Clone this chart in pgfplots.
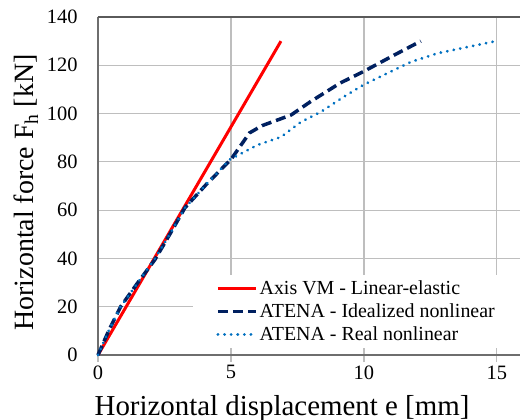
\documentclass[border=0pt]{standalone}
\usepackage{fontspec}
\setmainfont{Liberation Serif}
\usepackage{pgfplots}
\pgfplotsset{compat=1.18}
\definecolor{cred}{RGB}{255,0,0}
\definecolor{cnavy}{RGB}{0,32,96}
\definecolor{cblue}{RGB}{0,112,192}
\definecolor{cgrid}{RGB}{190,190,190}
\definecolor{caxis}{RGB}{110,110,110}
\begin{document}
\begin{tikzpicture}
\begin{axis}[
  scale only axis, width=422bp, height=338bp,
  xmin=0, xmax=15.87, ymin=0, ymax=140,
  xtick={0,5,10,15}, ytick={0,20,...,140},
  axis lines=left, axis line style={caxis, line width=1.2bp, -},
  grid=major, major grid style={cgrid, line width=1.2bp},
  x tick style={cgrid, line width=1.2bp}, major tick length=7bp,
  tick align=outside, y tick style={draw=none},
  /pgf/number format/assume math mode=true,
  ticklabel style={font=\fontsize{20.5}{24}\selectfont},
  xticklabel style={yshift=0bp},
  yticklabel style={xshift=-10bp},
  xlabel={Horizontal displacement e [mm]},
  ylabel={Horizontal force F\textsubscript{h} [kN]},
  xlabel style={font=\fontsize{29}{33}\selectfont, at={(axis description cs:0.436,0)}, anchor=base, yshift=-60bp},
  ylabel style={font=\fontsize{28}{32}\selectfont, at={(axis description cs:-0.154,0.481)}, anchor=base},
  legend style={at={(axis description cs:0.225,0.02)}, anchor=south west,
    fill=white, draw=none, font=\fontsize{20}{23}\selectfont,
    inner xsep=23bp, inner ysep=4bp, row sep=3.5bp},
  legend cell align=left,
  legend image code/.code={\draw[#1] (0bp,0bp) -- (38bp,0bp);},
  clip=false,
]
\addplot[cred, line width=3bp] coordinates {(0,0) (6.88,130)};
\addlegendentry{Axis VM - Linear-elastic}
\addplot[cnavy, line width=3.5bp, dash pattern=on 10bp off 5bp] coordinates {
(0,0) (0.4,10) (0.85,20) (1.5,30) (2.14,39.5) (2.7,50) (3.27,61) (4.1,71) (5.0,81) (5.7,92) (6.17,95) (7.26,99.4) (8,105) (9.1,112.6) (10,117.5) (11.1,124) (12.14,130)};
\addlegendentry{ATENA - Idealized nonlinear}
\addplot[cblue, line width=3bp, line cap=round, dash pattern=on 0.1bp off 6.5bp] coordinates {
(0,0) (0.4,10) (0.85,20) (1.5,30) (2.14,40) (2.7,50) (3.27,61) (4.1,71) (4.96,81) (6.0,87) (6.88,90.3) (7.63,96.5) (8.38,100.7) (9.25,107) (10,112) (10.9,116.8) (11.77,121.4) (12.78,125) (13.65,127) (14.96,130)};
\addlegendentry{ATENA - Real nonlinear}
\draw[color={rgb,255:red,90;green,90;blue,90}, line width=1.5bp] (rel axis cs:0,1) -- (rel axis cs:1,1);
\coordinate (o) at (rel axis cs:0,0);
\end{axis}
\pgfresetboundingbox
\path[use as bounding box] ([xshift=-98bp,yshift=-65bp]o) rectangle ++(522bp,420bp);
\end{tikzpicture}
\end{document}
